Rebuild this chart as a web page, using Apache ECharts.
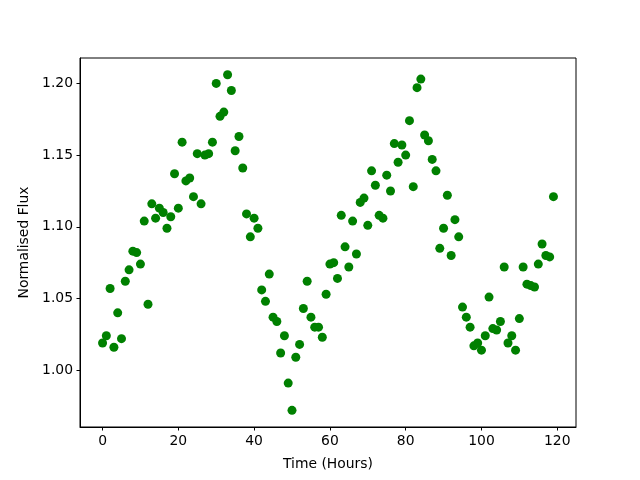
<!DOCTYPE html>
<html>
<head>
<meta charset="utf-8">
<script src="https://cdn.jsdelivr.net/npm/echarts@6/dist/echarts.min.js"></script>
<style>
  html, body { margin: 0; padding: 0; background: #fff; }
  #chart { width: 640px; height: 480px; }
</style>
</head>
<body>
<div id="chart"></div>
<script>
// hourly samples, 0..119
const hours = [];
for (let h = 0; h < 120; h++) hours.push(h);

const flux = [
  1.019, 1.024, 1.057, 1.016, 1.040, 1.022, 1.062, 1.070, 1.083, 1.082,
  1.074, 1.104, 1.046, 1.116, 1.106, 1.113, 1.110, 1.099, 1.107, 1.137,
  1.113, 1.159, 1.132, 1.134, 1.121, 1.151, 1.116, 1.150, 1.151, 1.159,
  1.200, 1.177, 1.180, 1.206, 1.195, 1.153, 1.163, 1.141, 1.109, 1.093,
  1.106, 1.099, 1.056, 1.048, 1.067, 1.037, 1.034, 1.012, 1.024, 0.991,
  0.972, 1.009, 1.018, 1.043, 1.062, 1.037, 1.030, 1.030, 1.023, 1.053,
  1.074, 1.075, 1.064, 1.108, 1.086, 1.072, 1.104, 1.081, 1.117, 1.120,
  1.101, 1.139, 1.129, 1.108, 1.106, 1.136, 1.125, 1.158, 1.145, 1.157,
  1.150, 1.174, 1.128, 1.197, 1.203, 1.164, 1.160, 1.147, 1.139, 1.085,
  1.099, 1.122, 1.080, 1.105, 1.093, 1.044, 1.037, 1.030, 1.017, 1.019,
  1.014, 1.024, 1.051, 1.029, 1.028, 1.034, 1.072, 1.019, 1.024, 1.014,
  1.036, 1.072, 1.060, 1.059, 1.058, 1.074, 1.088, 1.080, 1.079, 1.121
];

const xTicks = [0, 20, 40, 60, 80, 100, 120];
const yTicks = [1.00, 1.05, 1.10, 1.15, 1.20];

const points = hours.map((h, i) => [h, flux[i]]);

const textStyle = { color: '#000', fontFamily: 'DejaVu Sans', fontSize: 13.9 };

const myChart = echarts.init(document.getElementById('chart'), null, { renderer: 'canvas' });
myChart.setOption({
  animation: false,
  backgroundColor: '#fff',
  grid: {
    left: 80, right: 64, top: 58, bottom: 53,
    show: true,
    borderColor: '#000',
    borderWidth: 1,
    backgroundColor: 'transparent'
  },
  xAxis: {
    type: 'value',
    min: -5.95,
    max: 124.95,
    name: 'Time (Hours)',
    nameLocation: 'middle',
    nameGap: 30,
    nameTextStyle: textStyle,
    splitLine: { show: false },
    axisLine: { show: true, onZero: false, lineStyle: { color: '#000', width: 1 } },
    axisTick: { show: true, inside: false, length: 3.5, lineStyle: { color: '#000' }, customValues: xTicks },
    axisLabel: Object.assign({ margin: 7, customValues: xTicks, formatter: (v) => String(v) }, textStyle)
  },
  yAxis: {
    type: 'value',
    min: 0.9604,
    max: 1.2177,
    name: 'Normalised Flux',
    nameLocation: 'middle',
    nameGap: 44,
    nameRotate: 90,
    nameTextStyle: textStyle,
    splitLine: { show: false },
    axisLine: { show: true, onZero: false, lineStyle: { color: '#000', width: 1 } },
    axisTick: { show: true, inside: false, length: 3.5, lineStyle: { color: '#000' }, customValues: yTicks },
    axisLabel: Object.assign({ margin: 7, customValues: yTicks, formatter: (v) => v.toFixed(2) }, textStyle)
  },
  series: [
    {
      type: 'scatter',
      data: points,
      symbol: 'circle',
      symbolSize: 9,
      itemStyle: { color: '#008000', opacity: 1 }
    }
  ]
});
</script>
</body>
</html>
